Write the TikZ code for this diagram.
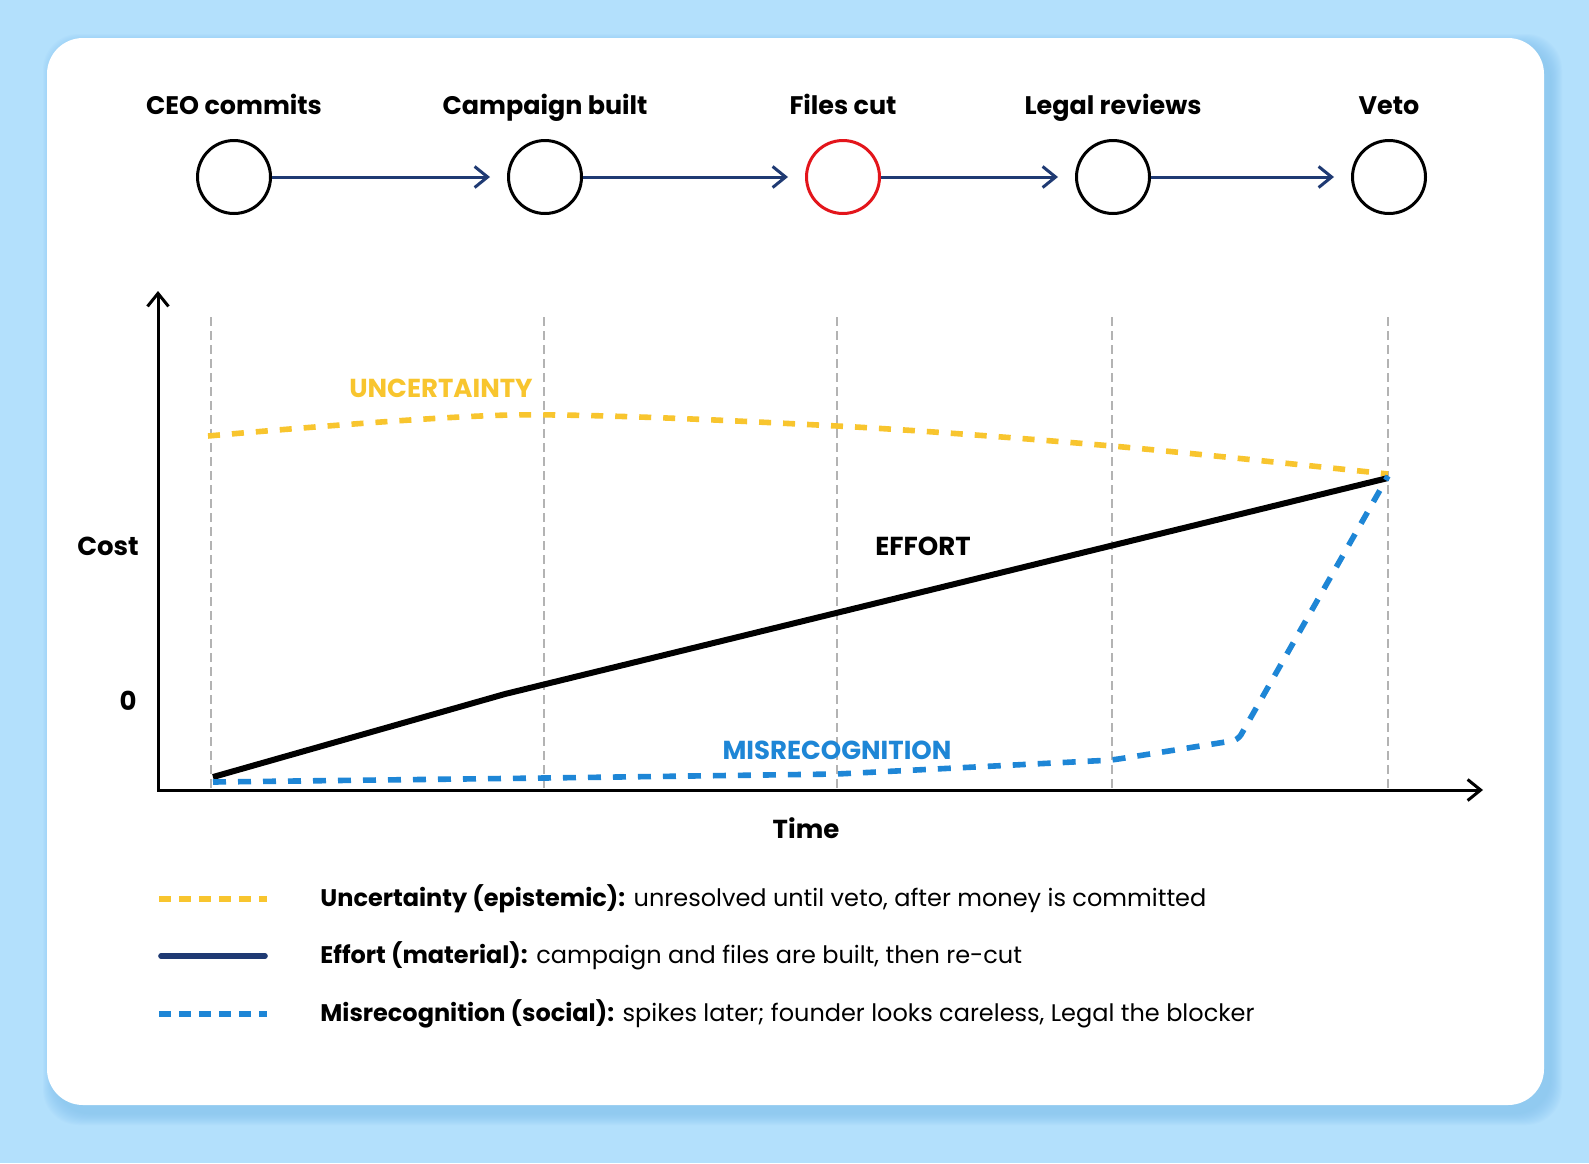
\documentclass[tikz,border=0pt]{standalone}
\usepackage{fontspec}
\setmainfont{Poppins}
\usetikzlibrary{arrows.meta,positioning}

\definecolor{skyback}{HTML}{B3E0FC}
\definecolor{cardshade}{HTML}{7FC0F0}
\definecolor{navyline}{HTML}{1F3A73}
\definecolor{vetored}{HTML}{E3151B}
\definecolor{uyellow}{HTML}{F8C52E}
\definecolor{mblue}{HTML}{1E86D6}
\definecolor{guidegrey}{HTML}{B3B3B3}

\begin{document}
\begin{tikzpicture}[x=0.5pt, y=-0.5pt, >={Straight Barb[length=6.5pt,width=10.5pt]},
  stage/.style={circle, draw=black, line width=1.5pt, minimum size=36.5pt, inner sep=0pt},
  stagelbl/.style={font=\bfseries\fontsize{12.7}{15}\selectfont, inner sep=0pt, text height=9.5pt, text depth=3pt},
  flow/.style={->, draw=navyline, line width=1.5pt, shorten >=8.5pt},
  guide/.style={draw=guidegrey, line width=1.1pt, dash pattern=on 4.5pt off 2.5pt},
  axis/.style={<->, line width=1.5pt},
  axislbl/.style={font=\bfseries\fontsize{13}{15}\selectfont, inner sep=0pt},
  curvelbl/.style={font=\bfseries\fontsize{13}{15}\selectfont, inner sep=0pt},
  uncert/.style={draw=uyellow, line width=2.8pt, dash pattern=on 6pt off 6pt},
  effort/.style={draw=black, line width=3pt, line join=round},
  misrec/.style={draw=mblue, line width=2.8pt, dash pattern=on 6.5pt off 6pt, rounded corners=3pt},
  legline/.style={line width=2.8pt},
  legtxt/.style={anchor=west, font=\fontsize{12}{14}\selectfont, inner sep=0pt, text height=8.5pt, text depth=2.5pt}]

% background and card
\useasboundingbox (0,0) rectangle (1589,1163);
\fill[skyback] (0,0) rectangle (1589,1163);
\foreach \s in {1,...,12}
  \fill[cardshade, opacity=0.07, rounded corners=18pt] (47+8-\s,38+8-\s) rectangle (1544+6+\s,1105+8+\s);
\fill[white, rounded corners=18pt] (47,38) rectangle (1544,1105);

% timeline
\node[stage] (ceo) at (234,177) {};
\node[stage] (camp) at (545,177) {};
\node[stage, draw=vetored] (files) at (843,177) {};
\node[stage] (legal) at (1113,177) {};
\node[stage] (veto) at (1389,177) {};

\node[stagelbl, above=9pt of ceo] (ceolbl) {CEO commits};
\node[stagelbl, above=9pt of camp] (camplbl) {Campaign built};
\node[stagelbl, above=9pt of files] (fileslbl) {Files cut};
\node[stagelbl, above=9pt of legal] (legallbl) {Legal reviews};
\node[stagelbl, above=9pt of veto] (vetolbl) {Veto};

\draw[flow] (ceo) -- (camp);
\draw[flow] (camp) -- (files);
\draw[flow] (files) -- (legal);
\draw[flow] (legal) -- (veto);

% chart
\coordinate (origin) at (158,790);
\coordinate (ytip) at (158,291);
\coordinate (xtip) at (1483,790);
\foreach \gx in {211,544,837,1112,1388}
  \draw[guide] (\gx,317) -- (\gx,790);
\draw[axis] (ytip) |- (xtip);

\draw[uncert] plot[smooth, tension=0.5] coordinates {(208,436) (512,415) (837,426) (1112,446) (1388,474)};
\draw[effort] (213,777) -- (505,694) -- (1388,478);
\draw[misrec] (213,782) -- (544,778) -- (837,774) -- (1112,760) -- (1238,740) -- (1388,476);

\node[curvelbl, text=uyellow] (uncertlbl) at (441,388) {UNCERTAINTY};
\node[curvelbl] (effortlbl) at (923,546) {EFFORT};
\node[curvelbl, text=mblue] (misreclbl) at (837,750) {MISRECOGNITION};
\node[axislbl] (costlbl) at (108,546) {Cost};
\node[axislbl] (zerolbl) at (128,701) {0};
\node[axislbl] (timelbl) at (806,828) {Time};

% legend
\draw[legline, uyellow, dash pattern=on 6pt off 4pt] (159,899) -- (267,899);
\draw[legline, navyline, line cap=round] (161,956) -- (265,956);
\draw[legline, mblue, dash pattern=on 6pt off 4pt] (159,1014) -- (267,1014);
\node[legtxt] (uncertleg) at (320,900) {\textbf{Uncertainty (epistemic):} unresolved until veto, after money is committed};
\node[legtxt] (effortleg) at (320,957) {\textbf{Effort (material):} campaign and files are built, then re-cut};
\node[legtxt] (misrecleg) at (320,1015) {\textbf{Misrecognition (social):} spikes later; founder looks careless, Legal the blocker};
\end{tikzpicture}
\end{document}
